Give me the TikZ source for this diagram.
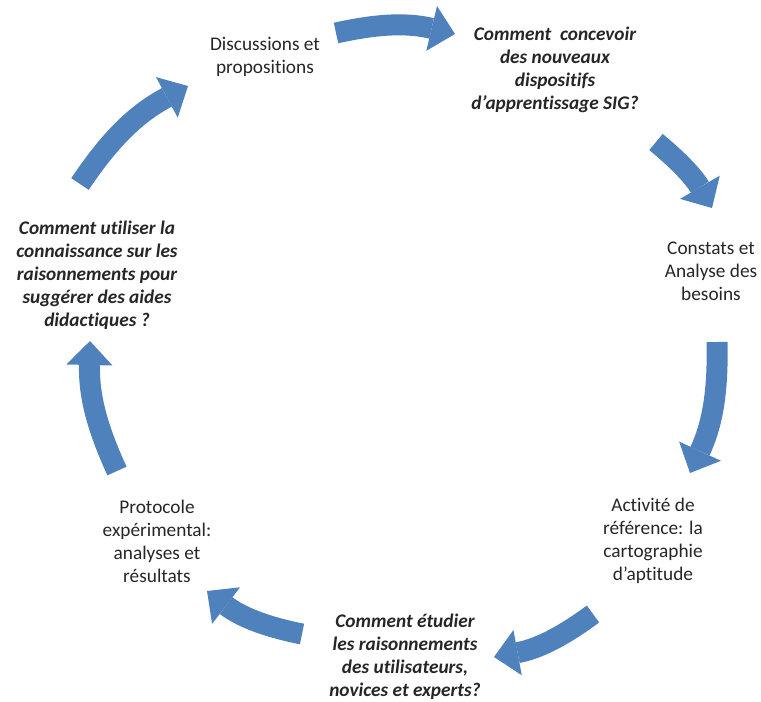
\documentclass[tikz,border=0pt]{standalone}
\usepackage{fontspec}
\setmainfont{Carlito}[Ligatures=NoCommon]
\usetikzlibrary{arrows.meta}
\definecolor{fleche}{RGB}{79,129,189}

\begin{document}
\begin{tikzpicture}[x=1pt, y=-1pt,
    etape/.style={align=center, text=black!85, font=\fontsize{19.3}{23}\selectfont},
    question/.style={etape, font=\fontsize{19.3}{23}\selectfont\bfseries\itshape},
    bloc/.style={draw=fleche, line width=21pt, -{Triangle[length=24pt, width=46pt, line width=0pt]}}]
    \useasboundingbox (0,0) rectangle (761,702);
    \node[etape] (discussions) at (265,57) {Discussions et\\propositions};
    \node[question] (concevoir) at (555,70) {Comment\ \ concevoir\\des nouveaux\\dispositifs\\d’apprentissage SIG?};
    \node[etape] (constats) at (711,271) {Constats et\\Analyse des\\besoins};
    \node[etape] (activite) at (653,541) {Activité de\\référence: la\\cartographie\\d’aptitude};
    \node[question] (etudier) at (405,657) {Comment étudier\\les raisonnements\\des utilisateurs,\\novices et experts?};
    \node[etape] (protocole) at (157,541) {Protocole\\expérimental:\\analyses et\\résultats};
    \node[question] (utiliser) at (97,275) {Comment utiliser la\\connaissance sur les\\raisonnements pour\\suggérer des aides\\didactiques ?};
    \coordinate (a1) at (336,33);  \coordinate (a2) at (455,34);
    \coordinate (b1) at (656,142); \coordinate (b2) at (712,208);
    \coordinate (c1) at (717,342); \coordinate (c2) at (690,473);
    \coordinate (d1) at (593,614); \coordinate (d2) at (494,657);
    \coordinate (e1) at (302,634); \coordinate (e2) at (207,591);
    \coordinate (f1) at (117,471); \coordinate (f2) at (90,341);
    \coordinate (g1) at (80,184);  \coordinate (g2) at (188,86);
    \draw[bloc] (a1) to[bend left=13] (a2);
    \draw[bloc] (b1) to[bend left=10] (b2);
    \draw[bloc] (c1) to[bend left=13] (c2);
    \draw[bloc] (d1) to[bend left=13] (d2);
    \draw[bloc] (e1) to[bend left=13] (e2);
    \draw[bloc] (f1) to[bend left=13] (f2);
    \draw[bloc] (g1) to[bend left=14] (g2);
\end{tikzpicture}
\end{document}
